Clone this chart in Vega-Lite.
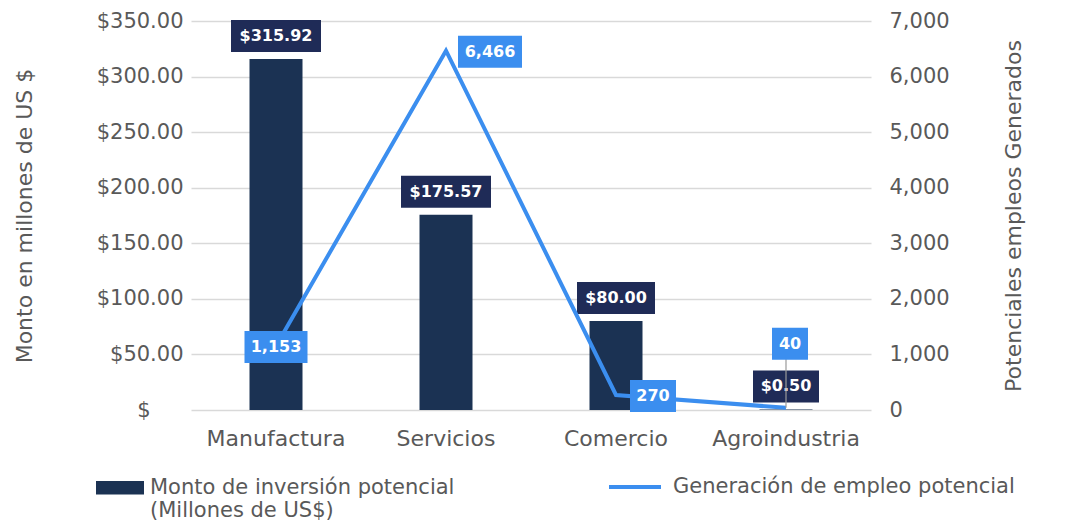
{
  "$schema": "https://vega.github.io/schema/vega-lite/v6.json",
  "width": 680,
  "height": 389,
  "autosize": {"type": "none"},
  "padding": {"left": 191, "top": 21, "right": 197, "bottom": 119},
  "background": "white",
  "config": {
    "view": {"stroke": null},
    "font": "DejaVu Sans",
    "axis": {
      "labelFont": "DejaVu Sans",
      "labelFontSize": 21,
      "labelColor": "#595959",
      "titleFont": "DejaVu Sans",
      "titleFontSize": 22,
      "titleFontWeight": "normal",
      "titleColor": "#595959",
      "domain": false,
      "ticks": false
    },
    "legend": {
      "labelFont": "DejaVu Sans",
      "labelFontSize": 21,
      "labelColor": "#595959",
      "labelLimit": 600
    }
  },
  "data": {
    "values": [
      {"categoria": "Manufactura", "monto": 315.92, "empleo": 1153},
      {"categoria": "Servicios", "monto": 175.57, "empleo": 6466},
      {"categoria": "Comercio", "monto": 80.0, "empleo": 270},
      {"categoria": "Agroindustria", "monto": 0.5, "empleo": 40}
    ]
  },
  "encoding": {
    "x": {
      "field": "categoria",
      "type": "nominal",
      "sort": null,
      "scale": {"paddingInner": 0, "paddingOuter": 0},
      "axis": {"title": null, "labelAngle": 0, "labelPadding": 18, "labelFontSize": 22, "grid": false}
    }
  },
  "layer": [
    {
      "encoding": {
        "y": {
          "field": "monto",
          "type": "quantitative",
          "scale": {"domain": [0, 350], "nice": false},
          "axis": {
            "title": "Monto en millones de US $",
            "values": [0, 50, 100, 150, 200, 250, 300, 350],
            "labelExpr": "datum.value == 0 ? '$' : format(datum.value, '$,.2f')",
            "labelPadding": {"condition": {"test": "datum.value == 0", "value": 41}, "value": 8},
            "titlePadding": 60,
            "grid": true,
            "gridColor": "#d9d9d9",
            "gridWidth": 1.5
          }
        }
      },
      "layer": [
        {
          "mark": {"type": "bar", "width": 53},
          "encoding": {
            "color": {
              "datum": "Monto de inversión potencial",
              "type": "nominal",
              "scale": {"range": ["#1b3253"]},
              "legend": {
                "title": null,
                "orient": "none",
                "legendX": -95,
                "legendY": 432,
                "symbolType": "M-1,0.17H1V0.73H-1Z",
                "symbolSize": 2304,
                "symbolStrokeWidth": 0,
                "labelOffset": 6,
                "labelBaseline": "top",
                "labelExpr": "['Monto de inversión potencial', '(Millones de US$)']"
              }
            }
          }
        },
        {
          "mark": {
            "type": "bar",
            "color": "#1f2b57",
            "yOffset": -39,
            "y2Offset": -7,
            "width": {"expr": "datum.monto >= 100 ? 90 : datum.monto >= 1 ? 78 : 66"}
          },
          "encoding": {
            "y2": {"field": "monto"}
          }
        },
        {
          "mark": {
            "type": "text",
            "color": "white",
            "fontWeight": "bold",
            "fontSize": 16,
            "baseline": "middle",
            "dy": -23
          },
          "encoding": {
            "text": {"field": "monto", "type": "quantitative", "format": "$,.2f"}
          }
        }
      ]
    },
    {
      "encoding": {
        "y": {
          "field": "empleo",
          "type": "quantitative",
          "scale": {"domain": [0, 7000], "nice": false},
          "axis": {
            "orient": "right",
            "title": "Potenciales empleos Generados",
            "titleAngle": 270,
            "values": [0, 1000, 2000, 3000, 4000, 5000, 6000, 7000],
            "format": ",d",
            "labelPadding": 18,
            "titlePadding": 76,
            "grid": false
          }
        }
      },
      "layer": [
        {
          "mark": {"type": "line", "strokeWidth": 4, "strokeJoin": "miter"},
          "encoding": {
            "stroke": {
              "datum": "Generación de empleo potencial",
              "type": "nominal",
              "scale": {"range": ["#3b8eef"]},
              "legend": {
                "title": null,
                "orient": "none",
                "legendX": 416,
                "legendY": 438,
                "symbolType": "stroke",
                "symbolSize": 2704,
                "symbolStrokeWidth": 4,
                "labelOffset": 10
              }
            }
          }
        },
        {
          "transform": [{"filter": "datum.categoria == 'Agroindustria'"}],
          "mark": {"type": "rule", "color": "#9a9a9a", "strokeWidth": 1.2, "x2Offset": 3, "y2Offset": -50},
          "encoding": {
            "y2": {"field": "empleo"}
          }
        },
        {
          "mark": {
            "type": "bar",
            "color": "#3b8eef",
            "width": {"expr": "datum.categoria == 'Manufactura' ? 63 : datum.categoria == 'Servicios' ? 64 : datum.categoria == 'Comercio' ? 46 : 36"},
            "xOffset": {"expr": "datum.categoria == 'Servicios' ? 44 : datum.categoria == 'Comercio' ? 37 : datum.categoria == 'Agroindustria' ? 4 : 0"},
            "yOffset": {"expr": "datum.categoria == 'Agroindustria' ? -80 : -15"},
            "y2Offset": {"expr": "datum.categoria == 'Agroindustria' ? -48 : 17"}
          },
          "encoding": {
            "y2": {"field": "empleo"}
          }
        },
        {
          "mark": {
            "type": "text",
            "color": "white",
            "fontWeight": "bold",
            "fontSize": 16,
            "baseline": "middle",
            "dx": {"expr": "datum.categoria == 'Servicios' ? 44 : datum.categoria == 'Comercio' ? 37 : datum.categoria == 'Agroindustria' ? 4 : 0"},
            "dy": {"expr": "datum.categoria == 'Agroindustria' ? -64 : 1"}
          },
          "encoding": {
            "text": {"field": "empleo", "type": "quantitative", "format": ",d"}
          }
        }
      ]
    }
  ],
  "resolve": {"scale": {"y": "independent"}}
}
